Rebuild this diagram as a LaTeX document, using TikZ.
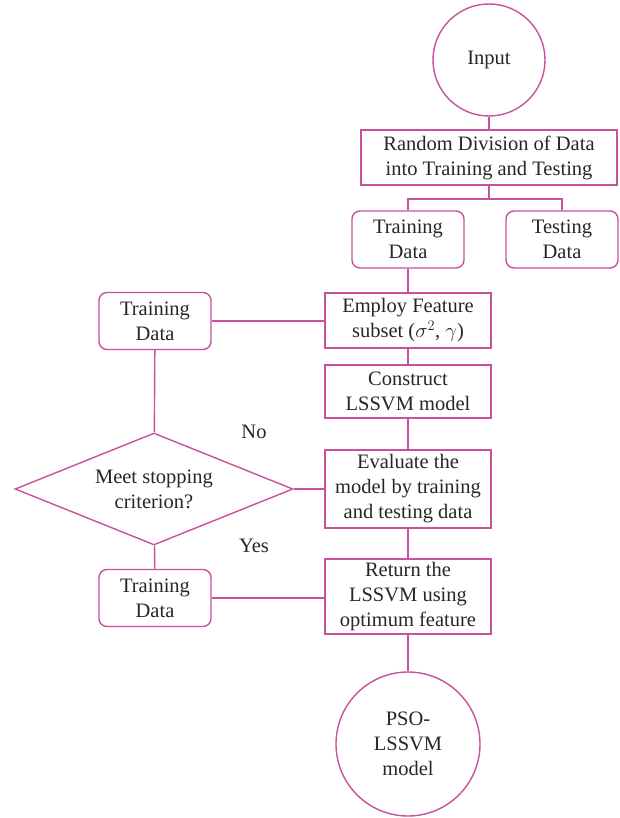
\documentclass[tikz,border=0pt]{standalone}
\usepackage{fontspec}
\setmainfont{Liberation Serif}
\usetikzlibrary{shapes.geometric}
\definecolor{fc}{RGB}{199,81,155}
\begin{document}
\begin{tikzpicture}[x=1pt,y=-1pt,
  every node/.style={font=\fontsize{20.5}{25}\selectfont, align=center, text=black!85},
  ln/.style={draw=fc, line width=1.4pt},
  rect/.style={ln, inner sep=0pt, minimum width=166pt},
  rbox/.style={ln, rounded corners=8pt, inner sep=0pt, minimum width=112pt, minimum height=57pt},
  circ/.style={ln, circle, inner sep=0pt},
  dia/.style={ln, diamond, aspect=2.5, inner sep=0pt, minimum width=278pt, minimum height=112pt}]
\useasboundingbox (0,0) rectangle (619,818);
\node[circ, minimum size=112pt] (input) at (489,60) {Input};
\node[rect, minimum width=256pt, minimum height=55pt] (div) at (489,157.5) {Random Division of Data\\into Training and Testing};
\node[rbox] (tr1) at (408,239.5) {Training\\Data};
\node[rbox] (te) at (562,239.5) {Testing\\Data};
\node[rect, minimum height=55pt] (emp) at (408,320.5) {Employ Feature\\subset ($\sigma^2$, $\gamma$)};
\node[rect, minimum height=53pt] (con) at (408,391.5) {Construct\\LSSVM model};
\node[rect, minimum height=78pt] (eva) at (408,489) {Evaluate the\\model by training\\and testing data};
\node[rect, minimum height=75pt] (ret) at (408,596.5) {Return the\\LSSVM using\\optimum feature};
\node[circ, minimum size=144pt] (pso) at (408,744) {PSO-\\LSSVM\\model};
\node[rbox] (tr2) at (155,321) {Training\\Data};
\node[dia] (dec) at (154,489) {Meet stopping\\criterion?};
\node[rbox] (tr3) at (155,598) {Training\\Data};
\node (no) at (254,432) {No};
\node (yes) at (254,546) {Yes};
\draw[ln] (input) -- (div);
\draw[ln] (div.south) -- ++(0,13.5) -| (tr1.north);
\draw[ln] (div.south) -- ++(0,13.5) -| (te.north);
\draw[ln] (tr1) -- (emp);
\draw[ln] (emp) -- (con);
\draw[ln] (con) -- (eva);
\draw[ln] (eva) -- (ret);
\draw[ln] (ret) -- (pso);
\draw[ln] (tr2.east) -- (tr2.east -| emp.west);
\draw[ln] (tr2) -- (dec);
\draw[ln] (dec.east) -- (eva.west);
\draw[ln] (dec) -- (tr3);
\draw[ln] (tr3.east) -- (tr3.east -| ret.west);
\end{tikzpicture}
\end{document}
